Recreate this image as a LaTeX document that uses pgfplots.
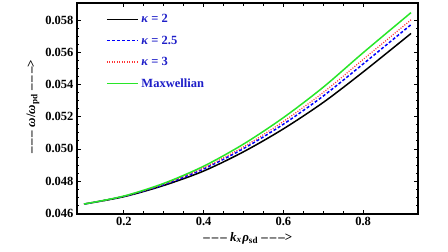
\documentclass[border=0pt]{standalone}
\usepackage{fontspec}
\setmainfont{Liberation Serif}
\usepackage{pgfplots}
\pgfplotsset{compat=1.18}
\definecolor{legblue}{RGB}{30,30,200}
\definecolor{mygreen}{RGB}{40,230,40}
\newcommand{\dsh}{–\kern2pt–\kern2pt–}
\begin{document}
\begin{tikzpicture}
\begin{axis}[
  name=ax,
  scale only axis,
  width=341pt, height=211pt,
  xmin=0.0825, xmax=0.9375,
  ymin=0.04594, ymax=0.0591,
  xtick={0.2,0.4,0.6,0.8},
  ytick={0.046,0.048,0.050,0.052,0.054,0.056,0.058},
  minor x tick num=3,
  minor y tick num=3,
  tick align=inside,
  ticks=both,
  major tick length=4pt,
  minor tick length=2.5pt,
  tick style={black, line width=0.8pt},
  axis line style={line width=1.4pt},
  scaled y ticks=false,
  scaled x ticks=false,
  /pgf/number format/assume math mode=true,
  tick label style={font=\bfseries\fontsize{12.5}{13}\selectfont},
  xticklabel style={/pgf/number format/.cd, fixed, fixed zerofill, precision=1},
  yticklabel style={/pgf/number format/.cd, fixed, fixed zerofill, precision=3},
  xlabel={\dsh{} \textit{k}\textsubscript{\textit{x}}\kern0.5pt\textit{ρ}\textsubscript{sd} \dsh{>}},
  ylabel={\dsh{} \textit{ω}/\textit{ω}\textsubscript{pd} \dsh{>}},
  label style={font=\bfseries\fontsize{13}{14}\selectfont},
  xlabel style={at={(axis description cs:0.501,-0.114)}, anchor=center},
  ylabel style={at={(axis description cs:-0.129,0.507)}, anchor=center},
  legend cell align=left,
  legend style={draw=none, fill=none, at={(axis description cs:0.085,0.965)}, anchor=north west,
    font=\bfseries\fontsize{12.5}{13}\selectfont, text=legblue, row sep=7.5pt,
    inner xsep=0pt, nodes={inner xsep=3pt}},
  legend image code/.code={\draw[#1] (0pt,0pt) -- (31pt,0pt);},
]
\addlegendimage{black, line width=1.2pt}
\addlegendentry{\textit{κ} = 2}
\addlegendimage{blue, line width=1.2pt, dash pattern=on 3pt off 2pt}
\addlegendentry{\textit{κ} = 2.5}
\addlegendimage{red!80!white, line width=1.1pt, dash pattern=on 1pt off 1.5pt}
\addlegendentry{\textit{κ} = 3}
\addlegendimage{mygreen, line width=1.3pt}
\addlegendentry{Maxwellian}
\addplot[black, line width=1.5pt, smooth, forget plot] coordinates {
(0.1,0.04656) (0.2,0.04702) (0.3,0.04772) (0.4,0.04862) (0.5,0.04982)
(0.6,0.05125) (0.7,0.05290) (0.8,0.05480) (0.92,0.05720)};
\addplot[blue, line width=1.5pt, dash pattern=on 3pt off 2pt, smooth, forget plot] coordinates {
(0.1,0.04656) (0.2,0.04704) (0.3,0.04777) (0.4,0.04875) (0.5,0.05002)
(0.6,0.05154) (0.7,0.05330) (0.8,0.05530) (0.92,0.05775)};
\addplot[red!80!white, line width=1.2pt, dash pattern=on 1pt off 1.5pt, smooth, forget plot] coordinates {
(0.1,0.04656) (0.2,0.04705) (0.3,0.04780) (0.4,0.04882) (0.5,0.05013)
(0.6,0.05171) (0.7,0.05352) (0.8,0.05558) (0.92,0.05805)};
\addplot[mygreen, line width=1.5pt, smooth, forget plot] coordinates {
(0.1,0.04656) (0.2,0.04706) (0.3,0.04785) (0.4,0.04892) (0.5,0.05030)
(0.6,0.05195) (0.7,0.05385) (0.8,0.05600) (0.92,0.05850)};
\end{axis}
\pgfresetboundingbox
\path[use as bounding box] (ax.south west) ++(-77pt,-38pt) rectangle ([xshift=30pt,yshift=3pt]ax.north east);
\end{tikzpicture}
\end{document}
